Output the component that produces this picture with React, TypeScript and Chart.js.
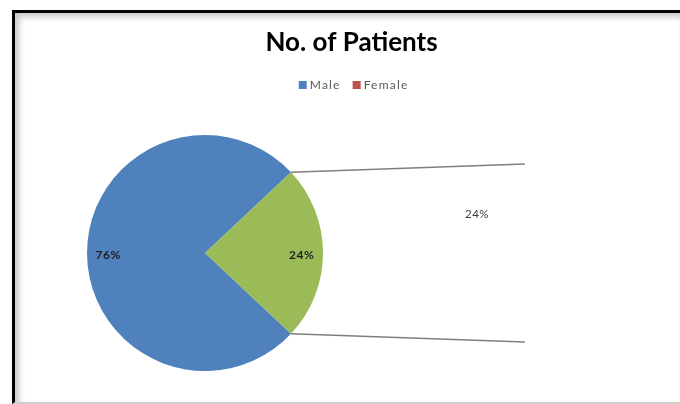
import React, { useEffect, useRef } from "react";
import { Chart, registerables } from "chart.js";

Chart.register(...registerables);

const TITLE = "No. of Patients";
const categories = ["Male", "Female"];
const values = [76, 24];
const sliceColors = ["#4F81BD", "#9BBB59"];
const legendColors = ["#4F81BD", "#C0504D"];
// the secondary plot (pie of pie) holds the whole "Female" share
const secondaryValues = [24];

const FONT = "Lato, 'Open Sans', sans-serif";

const decorPlugin = {
  id: "excelDecor",
  afterDatasetsDraw(chart: any) {
    const ctx: any = chart.ctx;
    const meta = chart.getDatasetMeta(0);
    const total = values.reduce((a, b) => a + b, 0);
    const W = chart.width;

    ctx.save();
    // title
    ctx.fillStyle = "#000";
    ctx.font = `bold 26px ${FONT}`;
    ctx.textAlign = "center";
    ctx.textBaseline = "alphabetic";
    ctx.fillText(TITLE, W * 0.517, 51);

    // legend
    ctx.font = `12px ${FONT}`;
    ctx.letterSpacing = "1.2px";
    ctx.textBaseline = "middle";
    ctx.textAlign = "left";
    const box = 8;
    const gapBox = 3;
    const gapItem = 12;
    const widths = categories.map((c) => ctx.measureText(c).width);
    const totalW =
      widths.reduce((a, w) => a + box + gapBox + w, 0) + gapItem * (categories.length - 1);
    let lx = W * 0.52 - totalW / 2;
    const ly = 85;
    categories.forEach((c, i) => {
      ctx.fillStyle = legendColors[i];
      ctx.fillRect(lx, ly - box / 2, box, box);
      ctx.fillStyle = "#595959";
      ctx.fillText(c, lx + box + gapBox, ly);
      lx += box + gapBox + widths[i] + gapItem;
    });

    // slice percentage labels
    ctx.font = `bold 12px ${FONT}`;
    ctx.letterSpacing = "0.6px";
    ctx.textAlign = "center";
    ctx.fillStyle = "#1f1f1f";
    let cx = 0, cy = 0, R = 0;
    meta.data.forEach((arc: any, i: number) => {
      const p = arc.getProps(["x", "y", "startAngle", "endAngle", "outerRadius"], true);
      cx = p.x; cy = p.y; R = p.outerRadius;
      const mid = (p.startAngle + p.endAngle) / 2;
      const r = p.outerRadius * 0.82;
      ctx.fillText(
        `${Math.round((values[i] / total) * 100)}%`,
        p.x + Math.cos(mid) * r,
        p.y + Math.sin(mid) * r + 2
      );
    });

    // connector lines to the (unfilled) secondary plot
    const split = meta.data[meta.data.length - 1];
    const sp = split.getProps(["x", "y", "startAngle", "endAngle", "outerRadius"], true);
    const sCx = cx + R * 2.71;
    const sCy = cy;
    const sR = R * 0.755;
    ctx.strokeStyle = "#7f7f7f";
    ctx.lineWidth = 1.5;
    ctx.beginPath();
    ctx.moveTo(sp.x + Math.cos(sp.startAngle) * R, sp.y + Math.sin(sp.startAngle) * R);
    ctx.lineTo(sCx, sCy - sR);
    ctx.moveTo(sp.x + Math.cos(sp.endAngle) * R, sp.y + Math.sin(sp.endAngle) * R);
    ctx.lineTo(sCx, sCy + sR);
    ctx.stroke();

    // secondary plot label
    ctx.font = `11.5px ${FONT}`;
    ctx.letterSpacing = "0.5px";
    ctx.fillStyle = "#404040";
    const secTotal = secondaryValues.reduce((a, b) => a + b, 0);
    secondaryValues.forEach((v) => {
      const ang = (220 * Math.PI) / 180;
      const r = sR * 0.7;
      ctx.fillText(
        `${Math.round((v / secTotal) * (values[values.length - 1] / total) * 100)}%`,
        sCx + Math.cos(ang) * r,
        sCy + Math.sin(ang) * r + 1
      );
    });
    ctx.restore();
  },
};

export default function App() {
  const ref = useRef<HTMLCanvasElement | null>(null);

  useEffect(() => {
    if (!ref.current) return;
    const femaleShare = values[1] / values.reduce((a, b) => a + b, 0);
    const chart = new Chart(ref.current, {
      type: "pie",
      data: {
        labels: categories,
        datasets: [
          {
            data: values,
            backgroundColor: sliceColors,
            borderWidth: 0,
          },
        ],
      },
      options: {
        animation: false,
        responsive: false,
        maintainAspectRatio: false,
        // centre the "Female" slice on the right-hand side
        rotation: 90 + 180 * femaleShare,
        layout: { padding: { left: 87, right: 357, top: 135, bottom: 33 } },
        plugins: {
          legend: { display: false },
          title: { display: false },
          tooltip: { enabled: false },
        },
      },
      plugins: [decorPlugin],
    });
    return () => chart.destroy();
  }, []);

  return (
    <div style={{ position: "absolute", left: 0, top: 0, width: 680, height: 404, background: "#fff" }}>
      <canvas ref={ref} width={680} height={404} style={{ position: "absolute", left: 0, top: 0 }} />
      <div
        style={{
          position: "absolute",
          left: 12,
          top: 10,
          width: 665,
          height: 389,
          borderLeft: "3px solid #000",
          borderTop: "3px solid #000",
          borderRight: "1px solid #e0e0e0",
          borderBottom: "2px solid #cfcfcf",
          boxShadow: "inset 4px 4px 6px rgba(0,0,0,0.22)",
          pointerEvents: "none",
        }}
      />
    </div>
  );
}
